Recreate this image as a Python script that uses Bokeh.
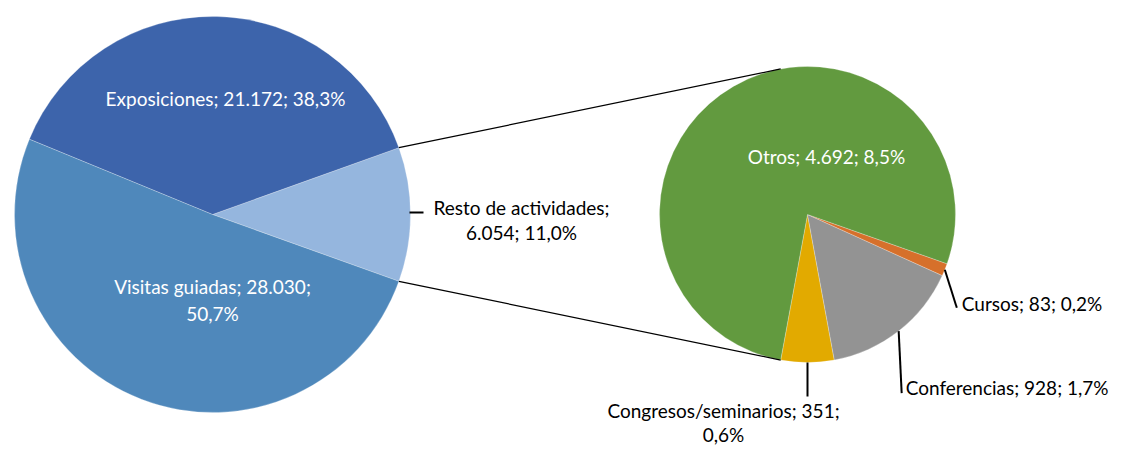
import math
from bokeh.plotting import figure
from bokeh.models import Range1d
from bokeh.core.properties import value
from bokeh.embed import file_html
from bokeh.resources import INLINE

# ---- data ----
main_labels = ["Resto de actividades", "Exposiciones", "Visitas guiadas"]
main_values = [6054, 21172, 28030]
main_pct = ["11,0%", "38,3%", "50,7%"]
main_vals_txt = ["6.054", "21.172", "28.030"]
main_colors = ["#95B6DE", "#3D64AB", "#4F88BB"]

sub_labels = ["Congresos/seminarios", "Conferencias", "Cursos", "Otros"]
sub_values = [351, 928, 83, 4692]
sub_pct = ["0,6%", "1,7%", "0,2%", "8,5%"]
sub_vals_txt = ["351", "928", "83", "4.692"]
sub_colors = ["#E2AA00", "#939393", "#D6702B", "#629A3F"]

W, H = 1109, 445
FONT = value("Lato")
FS = "19px"

p = figure(width=W, height=H, output_backend="svg", toolbar_location=None,
           x_range=Range1d(0, W), y_range=Range1d(0, H), min_border=0)
p.axis.visible = False
p.grid.visible = False
p.outline_line_color = None

# ---- main pie ----
cx1, cy1, r1 = 212, 231, 198
tot1 = sum(main_values)
a = -math.pi * main_values[0] / tot1
s1, e1 = [], []
for v in main_values:
    s1.append(a)
    a += 2 * math.pi * v / tot1
    e1.append(a)
p.wedge(x=[cx1] * 3, y=[cy1] * 3, radius=r1, start_angle=s1, end_angle=e1,
        fill_color=main_colors, line_color="white", line_width=0.5, line_alpha=0.5)

# ---- sub pie ----
cx2, cy2, r2 = 807, 231, 148
tot2 = sum(sub_values)
b0 = -math.pi / 2 - math.pi * sub_values[0] / tot2
b = b0
s2, e2 = [], []
for v in sub_values:
    s2.append(b)
    b += 2 * math.pi * v / tot2
    e2.append(b)
p.wedge(x=[cx2] * 4, y=[cy2] * 4, radius=r2, start_angle=s2, end_angle=e2,
        fill_color=sub_colors, line_color="white", line_width=0.5, line_alpha=0.5)

# ---- connector lines ----
ha = math.pi * main_values[0] / tot1
for sign in (1, -1):
    x0 = cx1 + r1 * math.cos(sign * ha)
    y0 = cy1 + r1 * math.sin(sign * ha)
    x1 = cx2 + r2 * math.cos(-sign * b0)
    y1 = cy2 + r2 * math.sin(-sign * b0)
    p.line([x0, x1], [y0, y1], line_color="black", line_width=1.2)

def mid(s, e):
    return (s + e) / 2

# ---- labels main pie ----
p.text(x=[225], y=[347], text=[f"{main_labels[1]}; {main_vals_txt[1]}; {main_pct[1]}"],
       text_color="white", text_font=FONT, text_font_size=FS,
       text_align="center", text_baseline="middle")
p.text(x=[212, 212], y=[159, 132],
       text=[f"{main_labels[2]}; {main_vals_txt[2]};", main_pct[2]],
       text_color="white", text_font=FONT, text_font_size=FS,
       text_align="center", text_baseline="middle")
# Resto (outside)
m = mid(s1[0], e1[0])
lx = cx1 + r1 * math.cos(m)
ly = cy1 + r1 * math.sin(m)
p.line([lx - 1, lx + 13], [ly + 2, ly + 2], line_color="black", line_width=2)
p.text(x=[521, 521], y=[238, 213],
       text=[f"{main_labels[0]};", f"{main_vals_txt[0]}; {main_pct[0]}"],
       text_color="black", text_font=FONT, text_font_size=FS,
       text_align="center", text_baseline="middle")

# ---- labels sub pie ----
p.text(x=[826], y=[289], text=[f"{sub_labels[3]}; {sub_vals_txt[3]}; {sub_pct[3]}"],
       text_color="white", text_font=FONT, text_font_size=FS,
       text_align="center", text_baseline="middle")

def leader(i, dx, dy):
    mm = mid(s2[i], e2[i])
    x0 = cx2 + r2 * math.cos(mm)
    y0 = cy2 + r2 * math.sin(mm)
    p.line([x0, x0 + dx], [y0, y0 + dy], line_color="black", line_width=2)
    return x0 + dx, y0 + dy

# Cursos
ex, ey = leader(2, 12, -38)
p.text(x=[ex + 5], y=[ey + 4], text=[f"{sub_labels[2]}; {sub_vals_txt[2]}; {sub_pct[2]}"],
       text_color="black", text_font=FONT, text_font_size=FS,
       text_align="left", text_baseline="middle")
# Conferencias
ex, ey = leader(1, 3, -62)
p.text(x=[ex + 4], y=[ey + 6], text=[f"{sub_labels[1]}; {sub_vals_txt[1]}; {sub_pct[1]}"],
       text_color="black", text_font=FONT, text_font_size=FS,
       text_align="left", text_baseline="middle")
# Congresos
ex, ey = leader(0, 0, -34)
p.text(x=[ex - 84, ex - 84], y=[ey - 14, ey - 38],
       text=[f"{sub_labels[0]}; {sub_vals_txt[0]};", sub_pct[0]],
       text_color="black", text_font=FONT, text_font_size=FS,
       text_align="center", text_baseline="middle")

open("out.html", "w").write(file_html(p, INLINE))
